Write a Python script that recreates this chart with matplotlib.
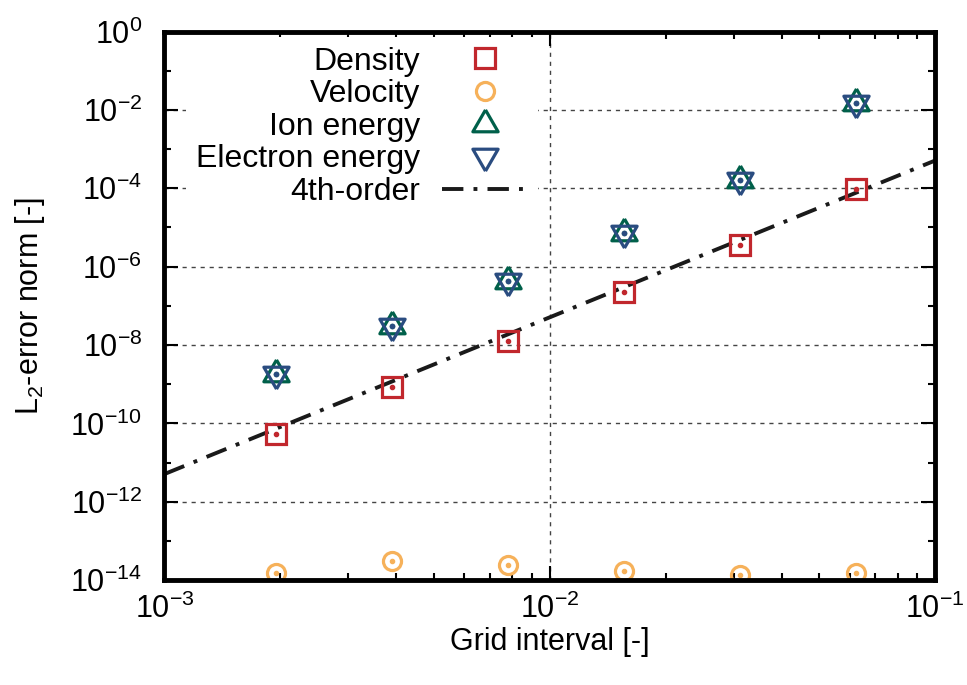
import numpy as np
import matplotlib
matplotlib.use("Agg")
import matplotlib.pyplot as plt
from matplotlib.ticker import FixedLocator, LogLocator, NullFormatter

plt.rcParams["font.family"] = ["Liberation Sans", "DejaVu Sans"]
plt.rcParams["mathtext.fontset"] = "custom"
plt.rcParams["mathtext.rm"] = "Liberation Sans"
plt.rcParams["mathtext.it"] = "Liberation Sans"

# grid interval h = 1/512 ... 1/16
grid_h = [1 / 512, 1 / 256, 1 / 128, 1 / 64, 1 / 32, 1 / 16]
density = [5.4e-11, 8.4e-10, 1.3e-8, 2.2e-7, 3.6e-6, 9.4e-5]
velocity = [1.5e-14, 3.0e-14, 2.4e-14, 1.7e-14, 1.35e-14, 1.5e-14]
ion_energy = [1.8e-9, 3.0e-8, 4.4e-7, 7.2e-6, 1.6e-4, 1.5e-2]
electron_energy = [1.8e-9, 3.0e-8, 4.4e-7, 7.2e-6, 1.6e-4, 1.5e-2]
ref_x = [1e-3, 1e-1]
ref_y = [5.1e-12, 5.1e-4]

# triangles centred on their centroid so up + down overlap as a star
tri_up = [(0, 1), (-0.866, -0.5), (0.866, -0.5), (0, 1)]
tri_dn = [(0, -1), (-0.866, 0.5), (0.866, 0.5), (0, -1)]

series = [
    ("Density", density, "s", "#c1272d", 14),
    ("Velocity", velocity, "o", "#f6b15a", 13),
    ("Ion energy", ion_energy, tri_up, "#00604a", 21),
    ("Electron energy", electron_energy, tri_dn, "#2a4c80", 21),
]

fig = plt.figure(figsize=(9.67, 6.85), dpi=100)
ax = fig.add_axes([0.170, 0.153, 0.797, 0.801])

handles = []
for name, vals, mk, col, ms in series:
    h, = ax.plot(grid_h, vals, linestyle="none", marker=mk, markersize=ms,
                 markerfacecolor="none", markeredgecolor=col,
                 markeredgewidth=2.3, label=name, zorder=3)
    ax.plot(grid_h, vals, linestyle="none", marker="o", markersize=3,
            color=col, zorder=4)
    handles.append(h)

h4, = ax.plot(ref_x, ref_y, color="#1a1a1a", lw=2.8,
              dashes=(5.5, 2.6, 1.0, 2.6), label="4th-order", zorder=2)
handles.append(h4)

ax.set_xscale("log")
ax.set_yscale("log")
ax.set_xlim(1e-3, 1e-1)
ax.set_ylim(1e-14, 1e0)

xt = [1e-3, 1e-2, 1e-1]
yt = [10.0 ** e for e in range(-14, 1, 2)]
ax.xaxis.set_major_locator(FixedLocator(xt))
ax.set_xticklabels([r"$10^{%d}$" % int(round(np.log10(v))) for v in xt])
ax.yaxis.set_major_locator(FixedLocator(yt))
ax.set_yticklabels([r"$10^{%d}$" % int(round(np.log10(v))) for v in yt])
ax.xaxis.set_minor_locator(LogLocator(base=10, subs=np.arange(2, 10)))
ax.yaxis.set_minor_locator(LogLocator(base=10, subs=[10.0], numticks=20))
ax.xaxis.set_minor_formatter(NullFormatter())
ax.yaxis.set_minor_formatter(NullFormatter())

ax.tick_params(which="both", direction="in", top=True, right=True,
               labelsize=22, width=1.5)
ax.tick_params(axis="x", pad=10)
ax.tick_params(axis="y", pad=16)
ax.tick_params(which="major", length=10)
ax.tick_params(which="minor", length=5)
for s in ax.spines.values():
    s.set_linewidth(3.5)
    s.set_zorder(10)

ax.grid(True, which="major", color="#444444", lw=1.0, dashes=(3, 3.5), zorder=0)

ax.set_xlabel("Grid interval [-]", fontsize=22, labelpad=1)
ax.set_ylabel(r"L$_2$-error norm [-]", fontsize=22, labelpad=17)

leg = ax.legend(handles=handles, loc="upper right", bbox_to_anchor=(0.485, 0.99),
                markerfirst=False, frameon=True, fontsize=23,
                handlelength=2.7, handletextpad=0.7, labelspacing=0.08,
                borderpad=0.3, borderaxespad=0.0)
leg.get_frame().set_edgecolor("none")
leg.get_frame().set_facecolor("white")
leg.get_frame().set_alpha(1.0)
leg.set_zorder(5)
leg._legend_box.align = "right"

fig.savefig("out.png", dpi=100)
